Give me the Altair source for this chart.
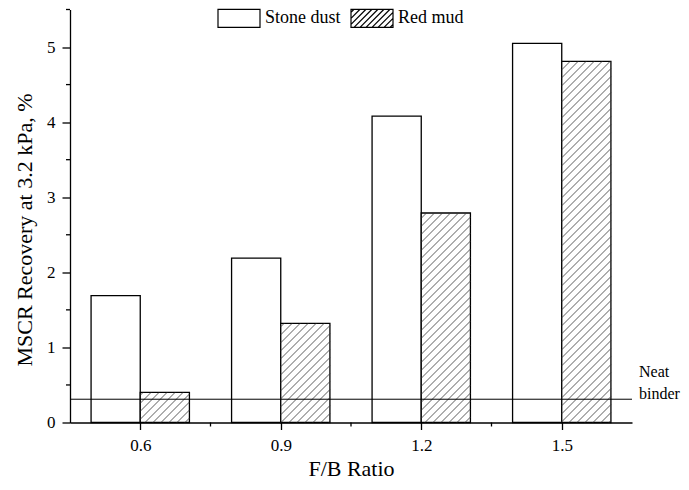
import altair as alt
import pandas as pd

# ---- data ----
RATIOS = [0.6, 0.9, 1.2, 1.5]
STONE_DUST = [1.69, 2.19, 4.08, 5.05]
RED_MUD = [0.40, 1.32, 2.79, 4.81]
NEAT_BINDER = 0.31
SERIES = ["Stone dust", "Red mud"]
NEAT_LABEL = ["Neat", "binder"]
X_TICKS = [0.6, 0.9, 1.2, 1.5]
X_MINOR = [0.75, 1.05, 1.35]
Y_TICKS = [0, 1, 2, 3, 4, 5]
Y_MINOR = [0.5, 1.5, 2.5, 3.5, 4.5, 5.5]

# ---- layout / style constants ----
W, H = 562, 413
X_DOM = [0.45, 1.65]
Y_DOM = [0, 5.5]
BAR_W = 0.105
PX_X = W / (X_DOM[1] - X_DOM[0])
PX_Y = H / (Y_DOM[1] - Y_DOM[0])
HATCH = 8.0
FONT = "Liberation Serif"

rows = []
for r, sd, rm in zip(RATIOS, STONE_DUST, RED_MUD):
    rows.append({"ratio": r, "series": SERIES[0], "value": sd})
    rows.append({"ratio": r, "series": SERIES[1], "value": rm})
df = pd.DataFrame(rows)

xs = alt.Scale(domain=X_DOM, nice=False, zero=False)
ys = alt.Scale(domain=Y_DOM, nice=False)

x_axis = alt.Axis(values=X_TICKS, format=".1f", tickSize=7, labelPadding=8,
                  titleBaseline="alphabetic", titleY=53, titleX=W / 2)
y_axis = alt.Axis(values=Y_TICKS, format="d", tickSize=8, labelPadding=7,
                  titleBaseline="alphabetic", titleX=-39, titleY=220, titleAngle=-90)

bars = alt.Chart(df).transform_calculate(
    x0=f"datum.series === '{SERIES[0]}' ? datum.ratio - {BAR_W} : datum.ratio",
    x1=f"datum.series === '{SERIES[0]}' ? datum.ratio : datum.ratio + {BAR_W}",
).mark_bar(fill="white", stroke="black", strokeWidth=1.3).encode(
    x=alt.X("x0:Q", scale=xs, axis=x_axis, title="F/B Ratio"),
    x2="x1:Q",
    y=alt.Y("value:Q", scale=ys, axis=y_axis, stack=None, title="MSCR Recovery at 3.2 kPa, %"),
    y2=alt.datum(0),
)

# diagonal hatching of the red mud bars, derived from the bar values
hatch = alt.Chart(df).transform_filter(
    f"datum.series === '{SERIES[1]}'"
).transform_calculate(
    a=f"(datum.ratio - {X_DOM[0]}) * {PX_X}",
    b=f"datum.a + {BAR_W * PX_X}",
    h=f"datum.value * {PX_Y}",
    ks=f"sequence(floor((datum.a - datum.h) / {HATCH}), ceil(datum.b / {HATCH}) + 1)",
).transform_flatten(["ks"], as_=["k"]).transform_calculate(
    c=f"datum.k * {HATCH} + 3",
    ylo="max(0, datum.a - datum.c)",
    yhi="min(datum.h, datum.b - datum.c)",
).transform_filter("datum.ylo < datum.yhi").transform_calculate(
    hx1=f"{X_DOM[0]} + (datum.ylo + datum.c) / {PX_X}",
    hy1=f"datum.ylo / {PX_Y}",
    hx2=f"{X_DOM[0]} + (datum.yhi + datum.c) / {PX_X}",
    hy2=f"datum.yhi / {PX_Y}",
).mark_rule(color="#333333", strokeWidth=0.8).encode(
    x=alt.X("hx1:Q", scale=xs),
    y=alt.Y("hy1:Q", scale=ys),
    x2="hx2:Q",
    y2="hy2:Q",
)

neat = alt.Chart(pd.DataFrame({"v": [NEAT_BINDER]})).mark_rule(
    color="black", strokeWidth=1.0
).encode(y=alt.Y("v:Q", scale=ys))

neat_text = alt.Chart(pd.DataFrame({"v": [NEAT_BINDER]})).mark_text(
    text=NEAT_LABEL, align="left", baseline="alphabetic", dx=7, dy=-22,
    lineHeight=22, font=FONT, fontSize=16, color="black"
).encode(x=alt.datum(X_DOM[1]), y=alt.Y("v:Q", scale=ys))

y_minor = alt.Chart(pd.DataFrame({"v": Y_MINOR})).mark_rule(
    color="black", strokeWidth=1.3
).encode(y=alt.Y("v:Q", scale=ys), x=alt.value(-4), x2=alt.value(0))

x_minor = alt.Chart(pd.DataFrame({"v": X_MINOR})).mark_rule(
    color="black", strokeWidth=1.3
).encode(x=alt.X("v:Q", scale=xs), y=alt.value(H), y2=alt.value(H + 4))


# legend symbols: wide rectangles, the second hatched
def box_path(hatched, hh=18 / 42, step=6 / 21):
    p = f"M-1,{-hh:.4f}L1,{-hh:.4f}L1,{hh:.4f}L-1,{hh:.4f}Z"
    if hatched:
        c = -1 - hh + step / 2
        while c < 1 + hh:
            xlo = max(-1, c - hh)
            xhi = min(1, c + hh)
            if xlo < xhi:
                p += f"M{xlo:.4f},{c - xlo:.4f}L{xhi:.4f},{c - xhi:.4f}"
            c += step
    return p


legend_pts = alt.Chart(df).mark_point(
    filled=False, color="black", strokeWidth=1.2, size=0
).encode(
    x=alt.X("ratio:Q", scale=xs),
    y=alt.Y("value:Q", scale=ys),
    shape=alt.Shape(
        "series:N",
        scale=alt.Scale(domain=SERIES, range=[box_path(False), box_path(True)]),
        legend=alt.Legend(
            orient="none", legendX=147, legendY=-13.5, direction="horizontal",
            title=None, symbolSize=1764, symbolStrokeWidth=1.2,
            symbolStrokeColor="black", symbolOpacity=1,
            labelFont=FONT, labelFontSize=18, labelColor="black", labelOffset=4,
            columnPadding=7, padding=0, labelLimit=300,
        ),
    ),
)

chart = alt.layer(bars, hatch, neat, neat_text, y_minor, x_minor, legend_pts).properties(
    width=W, height=H,
    autosize=alt.AutoSizeParams(type="none"),
    padding={"left": 62, "top": 1.5, "right": 49, "bottom": 59},
    background="white",
).configure_view(strokeWidth=0).configure_axis(
    grid=False, domainColor="black", domainWidth=1.3, tickColor="black", tickWidth=1.3,
    labelFont=FONT, labelFontSize=17, labelColor="black",
    titleFont=FONT, titleFontSize=22, titleFontWeight="normal", titleColor="black",
)

chart.save("out.html", embed_options={"renderer": "svg", "actions": False})
